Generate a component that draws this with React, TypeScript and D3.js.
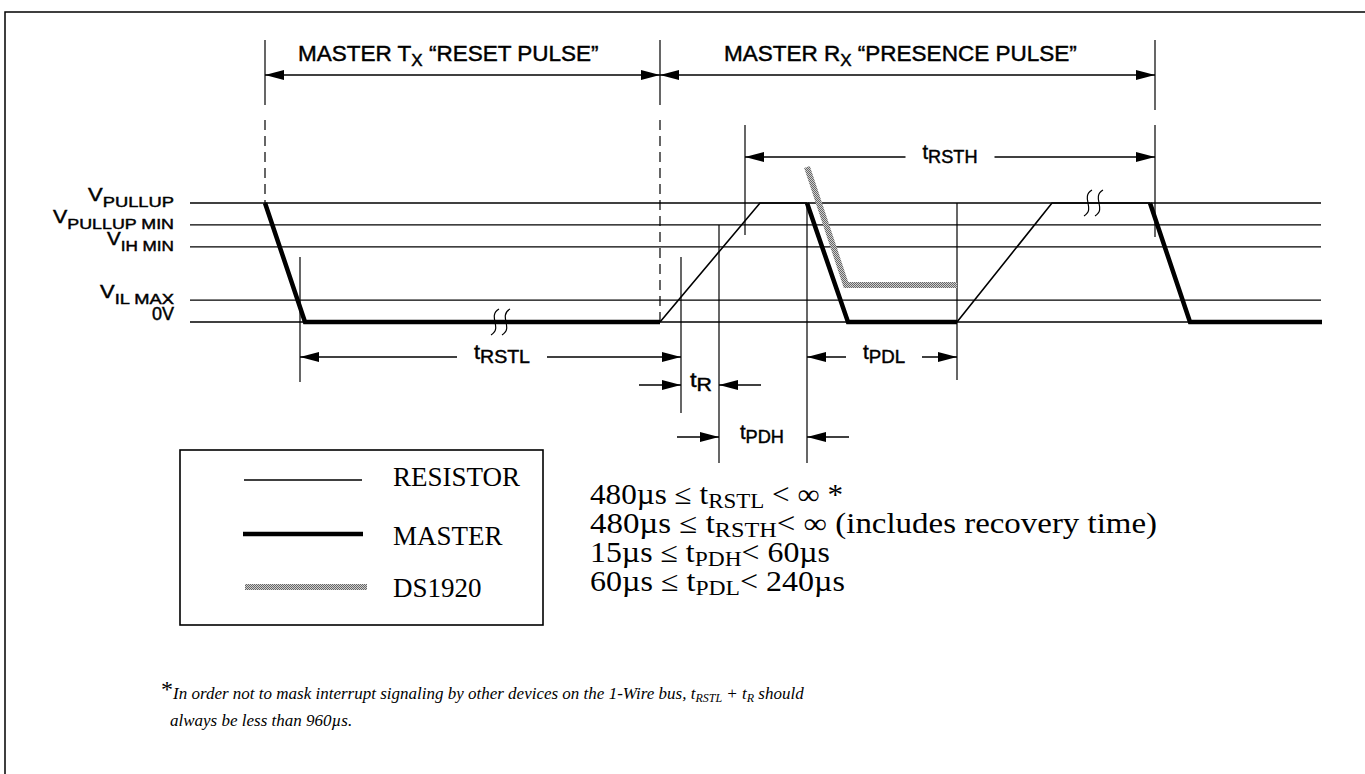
import React from 'react';
import * as d3 from 'd3';

// voltage levels (schematic volts), top to bottom
const LEVEL_MAIN = ['V', 'V', 'V', 'V', '0V'];
const LEVEL_SUB = ['PULLUP', 'PULLUP MIN', 'IH MIN', 'IL MAX', ''];
const LEVEL_VOLTS = [4.5, 3.67, 2.84, 0.83, 0];

// waveforms: [time, volts]
const MASTER = [
  [[75, 4.5], [115, 0], [470, 0]],
  [[617, 4.5], [658, 0], [767, 0]],
  [[960, 4.5], [1000, 0], [1132, 0]],
];
const RESISTOR = [
  [[470, 0], [570, 4.5], [617, 4.5]],
  [[767, 0], [862, 4.5], [960, 4.5]],
];
const DS1920 = [[617, 5.86], [656, 1.4], [767, 1.4]];

// "break" squiggles on the waveform [time, volts]
const BREAKS = [[310, 0], [903, 4.5]];

// timing spans
const SPANS = [
  { from: 75, to: 470, row: 75, kind: 'full', label: '', sub: '', at: 0 },
  { from: 470, to: 965, row: 75, kind: 'full', label: '', sub: '', at: 0 },
  { from: 555, to: 965, row: 157, kind: 'gap', label: 't', sub: 'RSTH', at: 760 },
  { from: 110, to: 491, row: 357, kind: 'gap', label: 't', sub: 'RSTL', at: 312 },
  { from: 617, to: 767, row: 357, kind: 'gap', label: 't', sub: 'PDL', at: 694 },
  { from: 491, to: 529, row: 385, kind: 'outer', label: 't', sub: 'R', at: 511 },
  { from: 529, to: 617, row: 437, kind: 'outer', label: 't', sub: 'PDH', at: 572 },
];
const SPAN_LABEL_W = [0, 0, 55, 56, 42, 22, 44];

// vertical marker lines: time, top, bottom, dashed
const MARKERS = [
  { t: 75, y1: 40, y2: 105, dash: false },
  { t: 75, y1: 120, y2: 203, dash: true },
  { t: 470, y1: 40, y2: 105, dash: false },
  { t: 470, y1: 120, y2: 322, dash: true },
  { t: 965, y1: 40, y2: 110, dash: false },
  { t: 965, y1: 125, y2: 237, dash: false },
  { t: 555, y1: 125, y2: 235, dash: false },
  { t: 110, y1: 257, y2: 382, dash: false },
  { t: 491, y1: 257, y2: 413, dash: false },
  { t: 529, y1: 225, y2: 463, dash: false },
  { t: 617, y1: 203, y2: 463, dash: false },
  { t: 767, y1: 203, y2: 380, dash: false },
];

const HEADERS = [
  { main: 'MASTER T', sub: 'X', rest: ' \u201CRESET PULSE\u201D' },
  { main: 'MASTER R', sub: 'X', rest: ' \u201CPRESENCE PULSE\u201D' },
];

const LEGEND = ['RESISTOR', 'MASTER', 'DS1920'];

const EQUATIONS = [
  { pre: '480\u00B5s \u2264 t', sub: 'RSTL', post: ' < \u221E *' },
  { pre: '480\u00B5s \u2264 t', sub: 'RSTH', post: '< \u221E (includes recovery time)' },
  { pre: '15\u00B5s \u2264 t', sub: 'PDH', post: '< 60\u00B5s' },
  { pre: '60\u00B5s \u2264 t', sub: 'PDL', post: '< 240\u00B5s' },
];

const SANS = "'Liberation Sans Narrow', 'Arial Narrow', 'Liberation Sans', Arial, sans-serif";
const SERIF = "'Liberation Serif', 'Times New Roman', serif";

export default function App() {
  const W = 1365;
  const H = 774;
  const x = d3.scaleLinear().domain([0, 1132]).range([190, 1322]);
  const y = d3.scaleLinear().domain([0, 4.5]).range([322, 203]);
  const line = d3.line<number[]>().x((d) => x(d[0])).y((d) => y(d[1]));

  const AH = 19; // arrowhead length
  const AW = 5; // arrowhead half width
  const head = (tip: number, yy: number, dir: number) =>
    `M${tip},${yy}L${tip - dir * AH},${yy - AW}L${tip - dir * AH},${yy + AW}Z`;

  const levelLabelW = [86, 121, 67, 74, 22];
  const headerX = [298, 724];
  const eqW = [253, 567, 240, 255];
  const ink = { stroke: '#000', strokeWidth: 0.45 };

  const squiggle = (cx: number, cy: number) => {
    const s = (ox: number) =>
      `M${cx + ox + 4},${cy - 13} C${cx + ox - 8},${cy - 6} ${cx + ox + 8},${cy + 6} ${cx + ox - 4},${cy + 13}`;
    return s(-5) + ' ' + s(6);
  };

  return (
    <svg width={W} height={H} style={{ position: 'absolute', left: 0, top: 0, background: '#fff' }}>
      <defs>
        <pattern id="dsfill" width="2" height="2" patternUnits="userSpaceOnUse">
          <rect width="2" height="2" fill="#cfcfcf" />
          <rect width="1" height="1" fill="#666" />
          <rect x="1" y="1" width="1" height="1" fill="#666" />
        </pattern>
      </defs>

      {/* outer frame */}
      <rect x={5} y={12} width={1400} height={800} fill="none" stroke="#000" strokeWidth={1.5} />

      {/* reference levels */}
      {LEVEL_VOLTS.map((v, i) => (
        <g key={'lv' + i}>
          <line x1={x(0)} x2={x(1131)} y1={y(v)} y2={y(v)} stroke="#000" strokeWidth={1.3} />
          <text
            x={174}
            y={y(v) - 2}
            textAnchor="end"
            fontFamily={SANS}
            fontSize={18}
            textLength={levelLabelW[i]}
            lengthAdjust="spacingAndGlyphs"
            {...ink}
          >
            {LEVEL_MAIN[i]}
            {LEVEL_SUB[i] && (
              <tspan fontSize={15} dy={6}>
                {LEVEL_SUB[i]}
              </tspan>
            )}
          </text>
        </g>
      ))}

      {/* markers */}
      {MARKERS.map((m, i) => (
        <line
          key={'mk' + i}
          x1={x(m.t)}
          x2={x(m.t)}
          y1={m.y1}
          y2={m.y2}
          stroke="#000"
          strokeWidth={1.2}
          strokeDasharray={m.dash ? '10 6' : undefined}
        />
      ))}

      {/* headers */}
      {HEADERS.map((h, i) => (
        <text key={'hd' + i} x={headerX[i]} y={61} fontFamily={SANS} fontSize={22.5} {...ink}>
          {h.main}
          <tspan fontSize={17} dy={5}>
            {h.sub}
          </tspan>
          <tspan dy={-5}>{h.rest}</tspan>
        </text>
      ))}

      {/* spans */}
      {SPANS.map((s, i) => {
        const x1 = x(s.from);
        const x2 = x(s.to);
        const yy = s.row;
        const lw = SPAN_LABEL_W[i];
        const lx = x(s.at);
        const parts: JSX.Element[] = [];
        if (s.kind === 'full') {
          parts.push(<line key="l" x1={x1} x2={x2} y1={yy} y2={yy} stroke="#000" strokeWidth={1.6} />);
          parts.push(<path key="a" d={head(x1, yy, -1)} />);
          parts.push(<path key="b" d={head(x2, yy, 1)} />);
        } else if (s.kind === 'gap') {
          const g1 = lx - lw / 2 - 17;
          const g2 = lx + lw / 2 + 17;
          parts.push(<line key="l1" x1={x1} x2={g1} y1={yy} y2={yy} stroke="#000" strokeWidth={1.6} />);
          parts.push(<line key="l2" x1={g2} x2={x2} y1={yy} y2={yy} stroke="#000" strokeWidth={1.6} />);
          parts.push(<path key="a" d={head(x1, yy, -1)} />);
          parts.push(<path key="b" d={head(x2, yy, 1)} />);
        } else {
          parts.push(<line key="l1" x1={x1 - 42} x2={x1} y1={yy} y2={yy} stroke="#000" strokeWidth={1.6} />);
          parts.push(<line key="l2" x1={x2 + 42} x2={x2} y1={yy} y2={yy} stroke="#000" strokeWidth={1.6} />);
          parts.push(<path key="a" d={head(x1, yy, 1)} />);
          parts.push(<path key="b" d={head(x2, yy, -1)} />);
        }
        if (s.label) {
          parts.push(
            <text
              key="t"
              x={lx - lw / 2}
              y={yy + 2}
              fontFamily={SANS}
              fontSize={20}
              textLength={lw}
              lengthAdjust="spacingAndGlyphs"
              {...ink}
            >
              {s.label}
              <tspan fontSize={18} dy={4}>
                {s.sub}
              </tspan>
            </text>
          );
        }
        return <g key={'sp' + i}>{parts}</g>;
      })}

      {/* waveforms */}
      <path d={line(DS1920) || ''} fill="none" stroke="url(#dsfill)" strokeWidth={6} />
      {RESISTOR.map((seg, i) => (
        <path key={'r' + i} d={line(seg) || ''} fill="none" stroke="#000" strokeWidth={1.6} />
      ))}
      {MASTER.map((seg, i) => (
        <path key={'m' + i} d={line(seg) || ''} fill="none" stroke="#000" strokeWidth={4.5} strokeLinejoin="miter" />
      ))}
      {BREAKS.map((b, i) => (
        <path key={'br' + i} d={squiggle(x(b[0]), y(b[1]))} fill="none" stroke="#000" strokeWidth={1.2} />
      ))}

      {/* legend */}
      <rect x={180} y={450} width={363} height={175} fill="none" stroke="#000" strokeWidth={1.6} />
      <line x1={244} x2={362} y1={480} y2={480} stroke="#000" strokeWidth={1.6} />
      <line x1={243} x2={363} y1={534} y2={534} stroke="#000" strokeWidth={4.5} />
      <line x1={245} x2={367} y1={587} y2={587} stroke="url(#dsfill)" strokeWidth={6} />
      {LEGEND.map((l, i) => (
        <text key={'lg' + i} x={393} y={[486, 545, 597][i]} fontFamily={SERIF} fontSize={27}>
          {l}
        </text>
      ))}

      {/* equations */}
      {EQUATIONS.map((e, i) => (
        <text
          key={'eq' + i}
          x={590}
          y={504 + i * 29}
          fontFamily={SERIF}
          fontSize={28.5}
          textLength={eqW[i]}
          lengthAdjust="spacingAndGlyphs"
        >
          {e.pre}
          <tspan fontSize={21} dy={4}>
            {e.sub}
          </tspan>
          <tspan dy={-4}>{e.post}</tspan>
        </text>
      ))}

      {/* footnote */}
      <text x={161} y={697} fontFamily={SERIF} fontSize={24}>*</text>
      <text x={173} y={699} fontFamily={SERIF} fontSize={17} fontStyle="italic">
        In order not to mask interrupt signaling by other devices on the 1-Wire bus, t
        <tspan fontSize={12} dy={3}>RSTL</tspan>
        <tspan dy={-3}> + t</tspan>
        <tspan fontSize={12} dy={3}>R</tspan>
        <tspan dy={-3}> should</tspan>
      </text>
      <text x={170} y={726} fontFamily={SERIF} fontSize={17} fontStyle="italic">
        always be less than 960{'\u00B5'}s.
      </text>
    </svg>
  );
}
